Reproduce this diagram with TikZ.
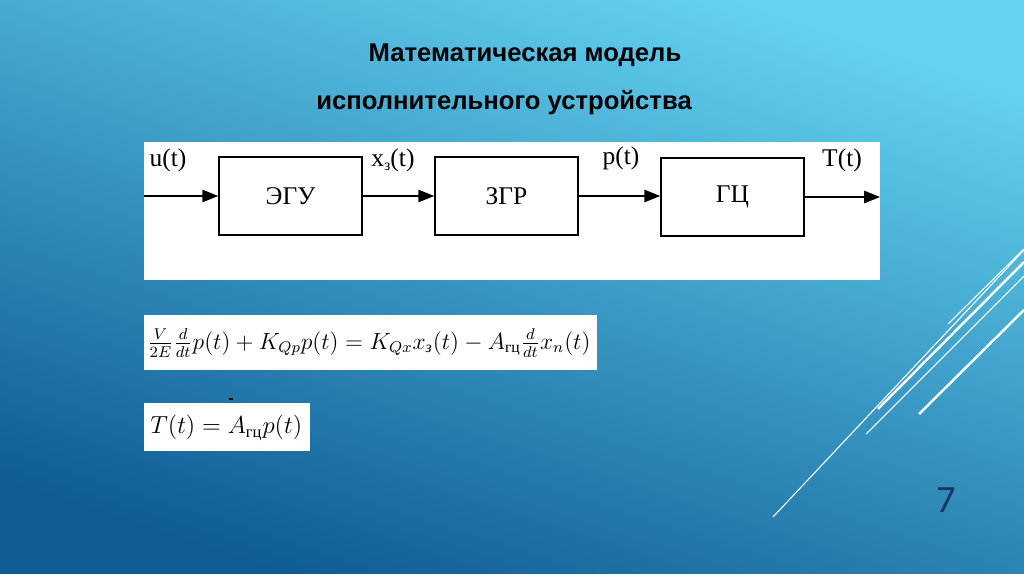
\documentclass[tikz,border=0pt]{standalone}
\usepackage{graphicx}
\usepackage{fontspec}
\usepackage{amsmath}
\newfontfamily\titlefont{Liberation Sans}
\newfontfamily\blockfont{Liberation Serif}
\newfontfamily\numfont{Carlito}
\usetikzlibrary{arrows.meta}

\definecolor{bgtop}{HTML}{63D2F0}
\definecolor{bgmid}{HTML}{3399CC}
\definecolor{bgbot}{HTML}{0F5C95}
\definecolor{numblue}{HTML}{17375E}

\begin{document}
\begin{tikzpicture}[x=0.02cm, y=-0.02cm,
    block/.style={draw, line width=0.85pt, minimum width=2.86cm,
                  minimum height=1.56cm, inner sep=0pt,
                  font=\blockfont\fontsize{14.5}{17}\selectfont},
    sig/.style={font=\blockfont\fontsize{14.5}{17}\selectfont, inner sep=1pt},
    arr/.style={-{Triangle[length=9pt,width=7pt]}, line width=0.85pt},
    title/.style={font=\titlefont\bfseries\fontsize{14.6}{17}\selectfont},
    formula/.style={anchor=west, inner sep=0pt, font=\fontsize{12}{14}\selectfont},
    slash/.style={white, line width=0.6pt},
    slashthick/.style={white, line width=1.4pt},
  ]
    % Background -------------------------------------------------------------
    \useasboundingbox (0,0) rectangle (1024,574);
    \shade[top color=bgtop, middle color=bgmid, bottom color=bgbot,
           shading angle=-18] (0,0) rectangle (1024,574);

    % Title ------------------------------------------------------------------
    \node[title] (title1) at (525,55)  {Математическая модель};
    \node[title] (title2) at (504,103) {исполнительного устройства};

    % Block diagram ----------------------------------------------------------
    \fill[white] (144,142) rectangle (880,280);
    \coordinate (in)  at (144,196);
    \coordinate (out) at (880,197);
    \node[block] (egu) at (290.5,196) {ЭГУ};
    \node[block] (zgr) at (506.5,196) {ЗГР};
    \node[block] (gc)  at (732.5,197) {ГЦ};

    \node[sig] (u) at (168,160) {u(t)};
    \node[sig] (x) at (393,160) {x\raisebox{-0.4ex}{\fontsize{9}{10}\selectfont з}(t)};
    \node[sig] (p) at (621,158) {p(t)};
    \node[sig] (T) at (842,160) {T(t)};

    \draw[arr] (in)  -- (egu);
    \draw[arr] (egu) -- (zgr);
    \draw[arr] (zgr) -- (gc.west |- zgr);
    \draw[arr] (gc)  -- (out);

    % Equations --------------------------------------------------------------
    \fill[white] (144,315) rectangle (597,370);
    \node[formula] (eq1) at (147,343)
      {\scalebox{1.115}{$\frac{V}{2E}\frac{d}{dt}p(t)+K_{Qp}p(t)=K_{Qx}x_{\text{\blockfont\itshape з}}(t)-A_{\text{\blockfont гц}}\frac{d}{dt}x_n(t)$}};

    \draw[line width=0.6pt] (229,399) -- (233,399);
    \fill[white] (144,403) rectangle (310,451);
    \node[formula] (eq2) at (150,428)
      {\scalebox{1.17}{$T(t)=A_{\text{\blockfont гц}}p(t)$}};

    % Decoration -------------------------------------------------------------
    \draw[slash]      (773,517) -- (1024,250);
    \draw[slash]      (948,324) -- (1024,249);
    \draw[slashthick] (878,409) -- (1024,262);
    \draw[slash]      (866,434) -- (1024,276);
    \draw[slashthick] (919,414) -- (1024,310);

    \node[font=\numfont\fontsize{22}{24}\selectfont, text=numblue] (page) at (946,500) {7};
  \end{tikzpicture}
\end{document}
